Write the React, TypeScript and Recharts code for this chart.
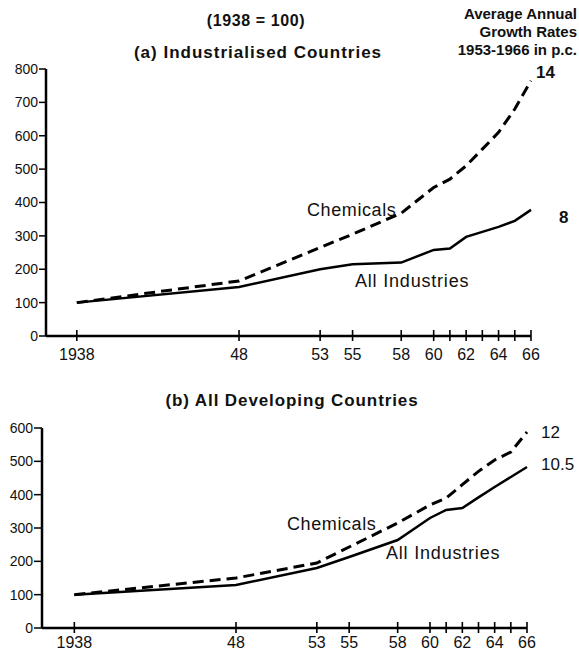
import React from 'react';
import { LineChart, Line, XAxis, YAxis } from 'recharts';

// years on the x axis (tick marks at every one of them)
const years = [1938, 1948, 1953, 1955, 1958, 1960, 1961, 1962, 1963, 1964, 1965, 1966];
const labelledYears = [1938, 1948, 1953, 1955, 1958, 1960, 1962, 1964, 1966];

// (a) Industrialised countries, 1938 = 100
const indAll = [100, 147, 200, 215, 220, 258, 262, 297, 312, 327, 345, 378];
const indChem = [100, 165, 265, 305, 368, 445, 470, 510, 560, 610, 680, 765];

// (b) All developing countries, 1938 = 100
const devAll = [100, 129, 180, 213, 264, 330, 354, 360, 392, 423, 453, 483];
const devChem = [100, 150, 195, 243, 315, 369, 390, 430, 470, 504, 528, 588];

const indTicks = [0, 100, 200, 300, 400, 500, 600, 700, 800];
const devTicks = [0, 100, 200, 300, 400, 500, 600];

const FONT = '"Liberation Sans", Arial, sans-serif';

const indData = years.map((year, i) => ({ year, all: indAll[i], chem: indChem[i] }));
const devData = years.map((year, i) => ({ year, all: devAll[i], chem: devChem[i] }));

const YearTick = (props: any) => {
  const { x, y, payload, gap = 18 } = props;
  const v = payload.value;
  const show = labelledYears.includes(v);
  return (
    <g>
      <line x1={x} x2={x} y1={y - 6} y2={y + 5} stroke="#000" strokeWidth={1.6} />
      {show && (
        <text x={x} y={y + gap} textAnchor="middle" dominantBaseline="central" fontSize={16}
          fontFamily={FONT} fill="#111">
          {v === 1938 ? '1938' : String(v).slice(2)}
        </text>
      )}
    </g>
  );
};

const Label = ({ x, y, children, size = 15, anchor = 'left', weight = 'normal', spacing = 0 }: any) => (
  <div style={{
    position: 'absolute',
    left: anchor === 'right' ? undefined : x,
    right: anchor === 'right' ? 579 - x : undefined,
    top: y,
    transform: anchor === 'center' ? 'translate(-50%, -50%)' : 'translateY(-50%)',
    fontFamily: FONT,
    fontSize: size,
    fontWeight: weight,
    letterSpacing: spacing,
    whiteSpace: 'nowrap',
    lineHeight: 1,
    color: '#111',
    textAlign: anchor === 'right' ? 'right' : 'left',
  }}>{children}</div>
);

const yTick = { fontSize: 14, fontFamily: FONT, fill: '#111' };

export default function App() {
  return (
    <div style={{ position: 'absolute', left: 0, top: 0, width: 579, height: 651, background: '#fff', overflow: 'hidden' }}>
      <div style={{ position: 'absolute', left: 0, top: 0 }}>
        <LineChart width={579} height={380} data={indData} margin={{ top: 69, right: 48, bottom: 14, left: 0 }}>
          <XAxis dataKey="year" type="number" domain={[1936.1, 1966]} ticks={years} interval={0}
            tick={<YearTick gap={18} />} tickLine={false} tickSize={0} tickMargin={0} height={30}
            axisLine={{ stroke: '#000', strokeWidth: 2.5 }} />
          <YAxis type="number" domain={[0, 800]} ticks={indTicks} interval={0} width={46}
            tick={yTick} tickSize={7} tickMargin={1} tickLine={{ stroke: '#000', strokeWidth: 1.5 }}
            axisLine={{ stroke: '#000', strokeWidth: 2.5 }} />
          <Line type="linear" dataKey="chem" stroke="#000" strokeWidth={3} strokeDasharray="11 6"
            dot={false} isAnimationActive={false} />
          <Line type="linear" dataKey="all" stroke="#000" strokeWidth={2.5} dot={false} isAnimationActive={false} />
        </LineChart>
      </div>
      <div style={{ position: 'absolute', left: 0, top: 380 }}>
        <LineChart width={579} height={271} data={devData} margin={{ top: 48, right: 52, bottom: 0, left: 0 }}>
          <XAxis dataKey="year" type="number" domain={[1936, 1966]} ticks={years} interval={0}
            tick={<YearTick gap={14} />} tickLine={false} tickSize={0} tickMargin={0} height={23}
            axisLine={{ stroke: '#000', strokeWidth: 2.5 }} />
          <YAxis type="number" domain={[0, 600]} ticks={devTicks} interval={0} width={42}
            tick={yTick} tickSize={8} tickMargin={1} tickLine={{ stroke: '#000', strokeWidth: 1.5 }}
            axisLine={{ stroke: '#000', strokeWidth: 2.5 }} />
          <Line type="linear" dataKey="chem" stroke="#000" strokeWidth={3} strokeDasharray="11 6"
            dot={false} isAnimationActive={false} />
          <Line type="linear" dataKey="all" stroke="#000" strokeWidth={2.5} dot={false} isAnimationActive={false} />
        </LineChart>
      </div>

      <Label x={256} y={21} anchor="center" size={16} weight="bold" spacing={0.6}>(1938 = 100)</Label>
      <Label x={258} y={52} anchor="center" size={17} weight="bold" spacing={1}>(a) Industrialised Countries</Label>
      <Label x={577} y={13} anchor="right" size={15} weight="bold">Average Annual</Label>
      <Label x={577} y={31} anchor="right" size={15} weight="bold">Growth Rates</Label>
      <Label x={577} y={49} anchor="right" size={15} weight="bold">1953-1966 in p.c.</Label>
      <Label x={536} y={72} size={17} weight="bold">14</Label>
      <Label x={559} y={217} size={17} weight="bold">8</Label>
      <Label x={307} y={210} size={18} spacing={0.6}>Chemicals</Label>
      <Label x={355} y={281} size={18} spacing={0.8}>All Industries</Label>

      <Label x={292} y={400} anchor="center" size={17} weight="bold" spacing={0.9}>(b) All Developing Countries</Label>
      <Label x={287} y={524} size={18} spacing={0.6}>Chemicals</Label>
      <Label x={386} y={553} size={18} spacing={0.8}>All Industries</Label>
      <Label x={541} y={432} size={17}>12</Label>
      <Label x={541} y={464} size={17}>10.5</Label>
    </div>
  );
}
